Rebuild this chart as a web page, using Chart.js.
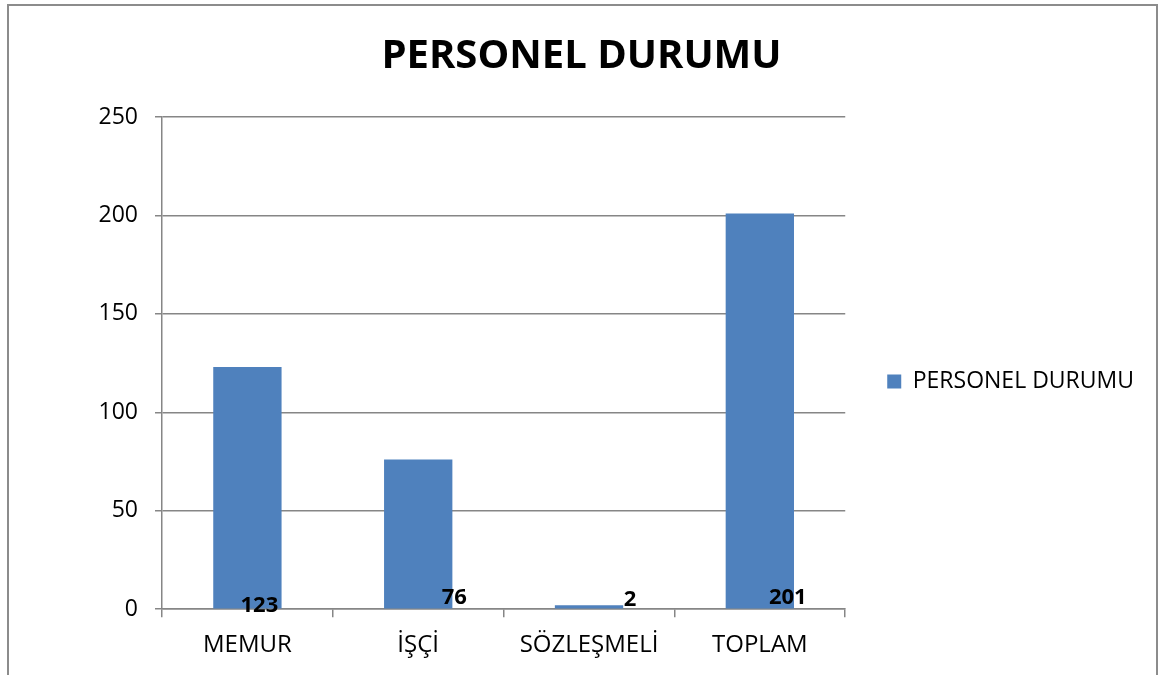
<!DOCTYPE html>
<html>
<head>
<meta charset="utf-8">
<script src="https://cdn.jsdelivr.net/npm/chart.js@4"></script>
<style>
  html, body { margin: 0; padding: 0; background: #fff; }
  #wrap { width: 1163px; height: 675px; position: relative; }
</style>
</head>
<body>
<div id="wrap"><canvas id="chart" width="1163" height="675"></canvas></div>
<script>
const categories = ['MEMUR', 'İŞÇİ', 'SÖZLEŞMELİ', 'TOPLAM'];
const personel = [123, 76, 2, 201];
const yTicks = [0, 50, 100, 150, 200, 250];
const seriesName = 'PERSONEL DURUMU';

const FONT = '"Open Sans", "Noto Sans", sans-serif';
const GRAY = '#868686';

// outer frame, like the Excel chart border
const frame = {
    id: 'frame',
    beforeDraw(chart) {
        const c = chart.ctx;
        c.save();
        c.strokeStyle = '#8c8c8c';
        c.lineWidth = 2;
        c.strokeRect(8, 5, 1149, 700);
        c.restore();
    }
};

// value labels near the base of each bar (Excel puts them a little to the right)
const labelShift = [12, 36, 41, 28];
const labelLift = [3, 11, 9, 11];
const valueLabels = {
    id: 'valueLabels',
    afterDatasetsDraw(chart) {
        const c = chart.ctx;
        const y0 = chart.scales.y.getPixelForValue(0);
        c.save();
        c.font = 'bold 22px ' + FONT;
        c.fillStyle = '#000';
        c.textAlign = 'center';
        c.textBaseline = 'middle';
        chart.getDatasetMeta(0).data.forEach((bar, i) => {
            c.fillText(String(personel[i]), bar.x + labelShift[i], y0 - labelLift[i]);
        });
        c.restore();
    }
};

new Chart(document.getElementById('chart'), {
    type: 'bar',
    data: {
        labels: categories,
        datasets: [{
            label: seriesName,
            data: personel,
            backgroundColor: '#4F81BD',
            borderWidth: 0,
            barPercentage: 0.4,
            categoryPercentage: 1
        }]
    },
    options: {
        responsive: false,
        animation: false,
        layout: { padding: { left: 19, right: 19, top: 25, bottom: 1 } },
        plugins: {
            title: {
                display: true,
                text: seriesName,
                color: '#000',
                font: { family: FONT, size: 40, weight: 'bold' },
                padding: { top: 8, bottom: 36 }
            },
            legend: {
                position: 'right',
                maxWidth: 340,
                // empty title just pushes the single entry down a bit
                title: { display: true, text: ' ', padding: 26, font: { size: 10 } },
                labels: {
                    color: '#000',
                    boxWidth: 14,
                    boxHeight: 14,
                    padding: 42,
                    font: { family: FONT, size: 23 }
                }
            },
            tooltip: { enabled: false }
        },
        scales: {
            x: {
                grid: {
                    offset: true,
                    drawOnChartArea: false,
                    color: GRAY,
                    tickLength: 8,
                    lineWidth: 1.5
                },
                border: { color: GRAY, width: 1.5 },
                ticks: { color: '#000', padding: 14, font: { family: FONT, size: 24 } }
            },
            y: {
                min: 0,
                max: 250,
                afterBuildTicks: (axis) => { axis.ticks = yTicks.map(v => ({ value: v })); },
                afterFit: (axis) => { axis.width = 143; },
                grid: { color: GRAY, tickLength: 7, lineWidth: 1.5 },
                border: { color: GRAY, width: 1.5 },
                ticks: { color: '#000', padding: 17, font: { family: FONT, size: 23 } }
            }
        }
    },
    plugins: [frame, valueLabels]
});
</script>
</body>
</html>
